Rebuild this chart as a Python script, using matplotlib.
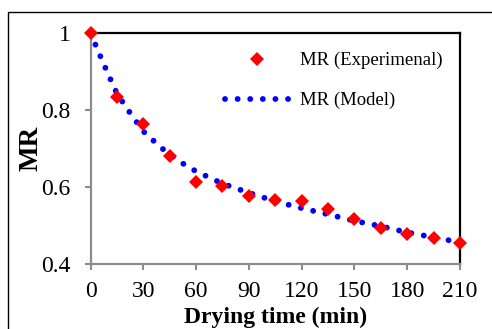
import matplotlib
matplotlib.use("Agg")
import matplotlib.pyplot as plt
from matplotlib.patches import Rectangle
from matplotlib.lines import Line2D

# Data
exp_time = [0, 15, 30, 45, 60, 75, 90, 105, 120, 135, 150, 165, 180, 195, 210]
exp_mr = [1.0, 0.834, 0.762, 0.680, 0.612, 0.602, 0.577, 0.566, 0.562, 0.543,
          0.517, 0.492, 0.477, 0.467, 0.453]
model_time = [0, 5, 10, 15, 20, 25, 30, 40, 50, 60, 75, 90, 105, 120, 135,
              150, 165, 180, 195, 210]
model_mr = [1.0, 0.946, 0.893, 0.843, 0.808, 0.776, 0.744, 0.702, 0.667, 0.640,
            0.608, 0.584, 0.562, 0.544, 0.528, 0.511, 0.497, 0.481, 0.468, 0.455]
xticks = [0, 30, 60, 90, 120, 150, 180, 210]
yticks = [0.4, 0.6, 0.8, 1.0]
ytick_labels = ["0.4", "0.6", "0.8", "1"]

plt.rcParams['font.family'] = ['Liberation Serif', 'DejaVu Serif']

W, H = 492, 329
fig = plt.figure(figsize=(W / 100, H / 100), dpi=100)
ax = fig.add_axes([90.5 / W, (H - 263.5) / H, (460 - 90.5) / W, (263.5 - 33) / H])

# outer border
fig.patches.append(Rectangle((8 / W, -0.2), 1.3, (H - 12) / H + 0.2,
                             transform=fig.transFigure, fill=False,
                             edgecolor='black', linewidth=1.0))

LW = 4.2
dot_ls = (0, (0.01, 2.15))
ax.plot(model_time, model_mr, color='#0000FF', linewidth=LW,
        linestyle=dot_ls, dash_capstyle='round', zorder=2, clip_on=False)
ax.plot(exp_time, exp_mr, linestyle='none', marker='D', markersize=7.5,
        color='#FF0000', markeredgewidth=0, zorder=3, clip_on=False)

ax.set_xlim(0, 210)
ax.set_ylim(0.4, 1.0)
ax.set_xticks(xticks)
ax.set_yticks(yticks)
ax.set_yticklabels(ytick_labels)

gray = '#8c8c8c'
for s in ['left', 'bottom']:
    ax.spines[s].set_color(gray)
    ax.spines[s].set_linewidth(1.6)
for s in ['top', 'right']:
    ax.spines[s].set_color('black')
    ax.spines[s].set_linewidth(1.6)
ax.tick_params(axis='both', direction='out', length=4.5, width=1.5,
               color=gray, labelsize=17, labelcolor='black')
ax.tick_params(axis='x', pad=8)
ax.tick_params(axis='y', pad=10)

ax.set_xlabel('Drying time (min)', fontsize=17, fontweight='bold')
ax.xaxis.set_label_coords(0.5, -0.19)
ax.set_ylabel('MR', fontsize=19.5, fontweight='bold')
ax.yaxis.set_label_coords(-0.126, 0.5)

h_exp = Line2D([], [], linestyle='none', marker='D', markersize=7.5,
               color='#FF0000', markeredgewidth=0)
h_mod = Line2D([], [], color='#0000FF', linewidth=LW, linestyle=dot_ls,
               dash_capstyle='round')
ax.legend([h_exp, h_mod], ['MR (Experimenal)', 'MR (Model)'],
          loc='upper left', bbox_to_anchor=((225 - 90.5) / 369.5, (263.5 - 52) / 230.5),
          frameon=False, fontsize=13.5, handlelength=3.4, handletextpad=0.6,
          labelspacing=1.2, borderpad=0, borderaxespad=0)

fig.savefig('out.png', dpi=100)
